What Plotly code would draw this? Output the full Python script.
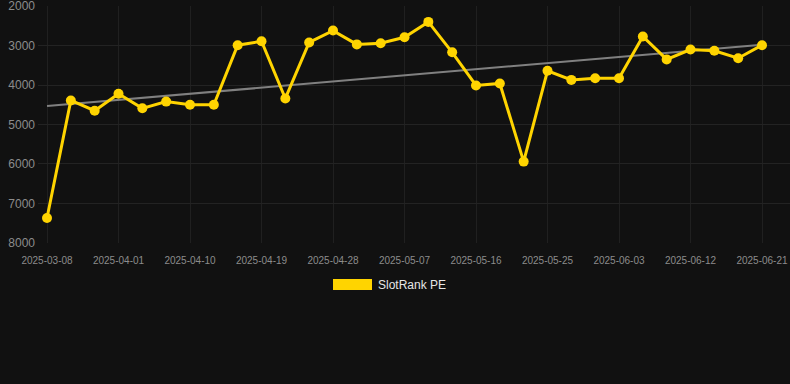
import numpy as np
import plotly.graph_objects as go

dates = ["2025-03-08", "2025-03-26", "2025-03-29", "2025-04-01", "2025-04-04", "2025-04-07",
         "2025-04-10", "2025-04-13", "2025-04-16", "2025-04-19", "2025-04-22", "2025-04-25",
         "2025-04-28", "2025-05-01", "2025-05-04", "2025-05-07", "2025-05-10", "2025-05-13",
         "2025-05-16", "2025-05-19", "2025-05-22", "2025-05-25", "2025-05-28", "2025-05-31",
         "2025-06-03", "2025-06-06", "2025-06-09", "2025-06-12", "2025-06-15", "2025-06-18",
         "2025-06-21"]
values = [7370, 4390, 4650, 4220, 4590, 4420, 4500, 4500, 2990, 2890, 4340, 2920, 2620,
          2970, 2940, 2790, 2400, 3170, 4010, 3960, 5940, 3640, 3870, 3830, 3830, 2770,
          3350, 3100, 3130, 3320, 2990]
tick_labels = dates[::3]
y_ticks = [2000, 3000, 4000, 5000, 6000, 7000, 8000]
series_name = "SlotRank PE"

idx = np.arange(len(values))
slope, intercept = np.polyfit(idx, values, 1)
trend = slope * idx + intercept

L, R, T, B = 38, 0, 6, 141
W, H = 790 - L - R, 384 - T - B

fig = go.Figure()
fig.add_trace(go.Scatter(x=[dates[0], dates[-1]], y=[trend[0], trend[-1]], mode="lines",
                         line=dict(color="#808080", width=2), showlegend=False, hoverinfo="skip"))
fig.add_trace(go.Scatter(x=dates, y=values, mode="lines+markers", name=series_name,
                         line=dict(color="#FFD400", width=3),
                         marker=dict(color="#FFD400", size=10), showlegend=False,
                         cliponaxis=False))

fig.add_shape(type="rect", xref="paper", yref="paper", x0=(333 - L) / W, x1=(372 - L) / W,
              y0=(384 - 290 - B) / H, y1=(384 - 279 - B) / H, fillcolor="#FFD400", line=dict(width=0))
fig.add_annotation(xref="paper", yref="paper", x=(376 - L) / W, y=(384 - 285 - B) / H,
                   text=series_name, showarrow=False, xanchor="left", yanchor="middle",
                   font=dict(color="#e6e6e6", size=12, family="Arial, Liberation Sans, sans-serif"))

fig.update_layout(
    width=790, height=384,
    margin=dict(l=L, r=R, t=T, b=B),
    paper_bgcolor="#111111", plot_bgcolor="#111111",
    font=dict(family="Arial, Liberation Sans, sans-serif", color="#8c8c8c"),
    xaxis=dict(type="category", categoryorder="array", categoryarray=dates,
               range=[-0.378, 31.175], tickvals=tick_labels, ticktext=tick_labels,
               showgrid=True, gridcolor="#202020", gridwidth=1, zeroline=False,
               showline=False, ticks="", tickfont=dict(size=10, color="#8c8c8c"),
               ticklabelstandoff=10, automargin=False, ticklabeloverflow="allow"),
    yaxis=dict(range=[8003, 1997], tickvals=y_ticks, showgrid=True, gridcolor="#232323",
               zeroline=False, showline=False, ticks="", tickfont=dict(size=12, color="#8c8c8c"),
               ticklabelstandoff=2, automargin=False, ticklabeloverflow="allow"),
    showlegend=False,
)
fig.write_html("out.html", config={"displayModeBar": False},
               post_script="document.body.style.margin='0';document.body.style.background='#111111';")
